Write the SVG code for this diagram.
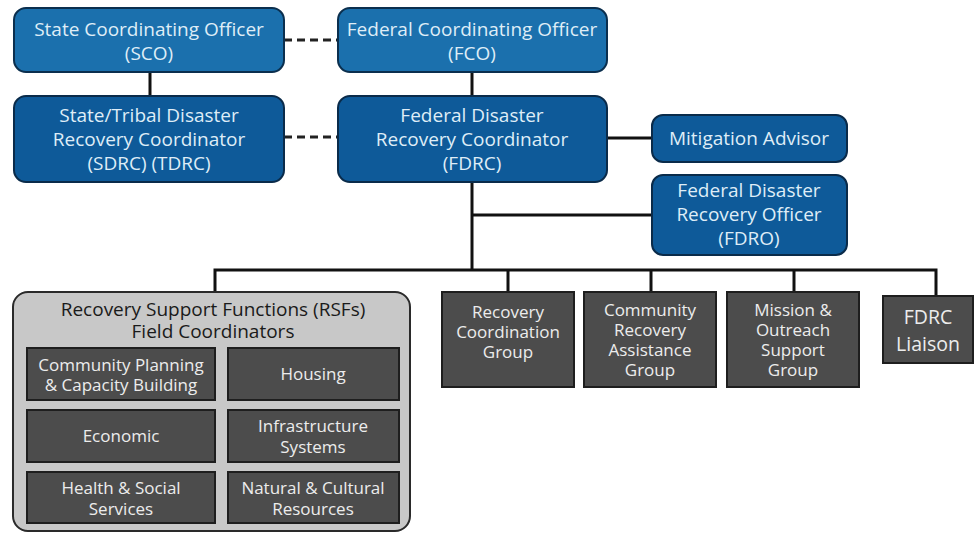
<svg xmlns="http://www.w3.org/2000/svg" width="974" height="533" viewBox="0 0 974 533">
<style>
.b1{fill:#1b70ad;stroke:#0b2f4e;stroke-width:2}
.b2{fill:#0e5a99;stroke:#0a2b4a;stroke-width:2}
.g{fill:#4c4c4c;stroke:#1e1e1e;stroke-width:2}
.rsf{fill:#c8c8c8;stroke:#2a2a2a;stroke-width:2}
text{font-family:"Open Sans","Noto Sans","DejaVu Sans",sans-serif;text-anchor:middle}
.tb{fill:#dfedf7;font-size:19px}
.tg{fill:#ececec;font-size:17px}
.tl{fill:#ececec;font-size:19.5px}
.tt{fill:#1a1a1a;font-size:19px}
.c{stroke:#111;stroke-width:3;fill:none}
.d{stroke:#222;stroke-width:3;fill:none;stroke-dasharray:8 5}
</style>
<rect width="974" height="533" fill="#ffffff"/>
<g id="connectors">
<line class="c" x1="150" y1="72" x2="150" y2="96"/>
<line class="c" x1="472" y1="72" x2="472" y2="96"/>
<line class="d" x1="284" y1="40" x2="338" y2="40"/>
<line class="d" x1="284" y1="137" x2="338" y2="137"/>
<line class="c" x1="607" y1="138" x2="652" y2="138"/>
<line class="c" x1="472" y1="182" x2="472" y2="270"/>
<line class="c" x1="472" y1="215" x2="652" y2="215"/>
<polyline class="c" points="215,292 215,270 936,270 936,296"/>
<line class="c" x1="508" y1="270" x2="508" y2="292"/>
<line class="c" x1="651" y1="270" x2="651" y2="292"/>
<line class="c" x1="794" y1="270" x2="794" y2="292"/>
</g>
<g id="sco">
<rect class="b1" x="14" y="8" width="270" height="64" rx="12"/>
<text class="tb" x="149" y="36">State Coordinating Officer</text>
<text class="tb" x="149" y="60">(SCO)</text>
</g>
<g id="fco">
<rect class="b1" x="338" y="8" width="269" height="64" rx="12"/>
<text class="tb" x="472" y="36">Federal Coordinating Officer</text>
<text class="tb" x="472" y="60">(FCO)</text>
</g>
<g id="sdrc">
<rect class="b2" x="14" y="96" width="270" height="86" rx="12"/>
<text class="tb" x="149" y="122">State/Tribal Disaster</text>
<text class="tb" x="149" y="146">Recovery Coordinator</text>
<text class="tb" x="149" y="170">(SDRC) (TDRC)</text>
</g>
<g id="fdrc">
<rect class="b2" x="338" y="96" width="269" height="86" rx="12"/>
<text class="tb" x="472" y="122">Federal Disaster</text>
<text class="tb" x="472" y="146">Recovery Coordinator</text>
<text class="tb" x="472" y="170">(FDRC)</text>
</g>
<g id="mitigation">
<rect class="b2" x="652" y="115" width="195" height="47" rx="11"/>
<text class="tb" x="749" y="145">Mitigation Advisor</text>
</g>
<g id="fdro">
<rect class="b2" x="652" y="175" width="195" height="80" rx="11"/>
<text class="tb" x="749" y="197">Federal Disaster</text>
<text class="tb" x="749" y="221">Recovery Officer</text>
<text class="tb" x="749" y="245">(FDRO)</text>
</g>
<g id="rsf">
<rect class="rsf" x="13" y="292" width="397" height="239" rx="15"/>
<text class="tt" x="213" y="316">Recovery Support Functions (RSFs)</text>
<text class="tt" x="213" y="338">Field Coordinators</text>
</g>
<g id="rsf-cpcb">
<rect class="g" x="27" y="348" width="188" height="52"/>
<text class="tg" x="121" y="371">Community Planning</text>
<text class="tg" x="121" y="391">&amp; Capacity Building</text>
</g>
<g id="rsf-housing">
<rect class="g" x="228" y="348" width="171" height="52"/>
<text class="tg" x="313" y="380">Housing</text>
</g>
<g id="rsf-economic">
<rect class="g" x="27" y="410" width="188" height="52"/>
<text class="tg" x="121" y="442">Economic</text>
</g>
<g id="rsf-infra">
<rect class="g" x="228" y="410" width="171" height="52"/>
<text class="tg" x="313" y="432">Infrastructure</text>
<text class="tg" x="313" y="453">Systems</text>
</g>
<g id="rsf-health">
<rect class="g" x="27" y="472" width="188" height="51"/>
<text class="tg" x="121" y="494">Health &amp; Social</text>
<text class="tg" x="121" y="515">Services</text>
</g>
<g id="rsf-natural">
<rect class="g" x="228" y="472" width="171" height="51"/>
<text class="tg" x="313" y="494">Natural &amp; Cultural</text>
<text class="tg" x="313" y="515">Resources</text>
</g>
<g id="rcg">
<rect class="g" x="442" y="292" width="132" height="95"/>
<text class="tg" x="508" y="318">Recovery</text>
<text class="tg" x="508" y="338">Coordination</text>
<text class="tg" x="508" y="358">Group</text>
</g>
<g id="crag">
<rect class="g" x="584" y="292" width="132" height="95"/>
<text class="tg" x="650" y="316">Community</text>
<text class="tg" x="650" y="336">Recovery</text>
<text class="tg" x="650" y="356">Assistance</text>
<text class="tg" x="650" y="376">Group</text>
</g>
<g id="mosg">
<rect class="g" x="727" y="292" width="132" height="95"/>
<text class="tg" x="793" y="316">Mission &amp;</text>
<text class="tg" x="793" y="336">Outreach</text>
<text class="tg" x="793" y="356">Support</text>
<text class="tg" x="793" y="376">Group</text>
</g>
<g id="liaison">
<rect class="g" x="883" y="296" width="90" height="67"/>
<text class="tl" x="928" y="324">FDRC</text>
<text class="tl" x="928" y="351">Liaison</text>
</g>
</svg>
